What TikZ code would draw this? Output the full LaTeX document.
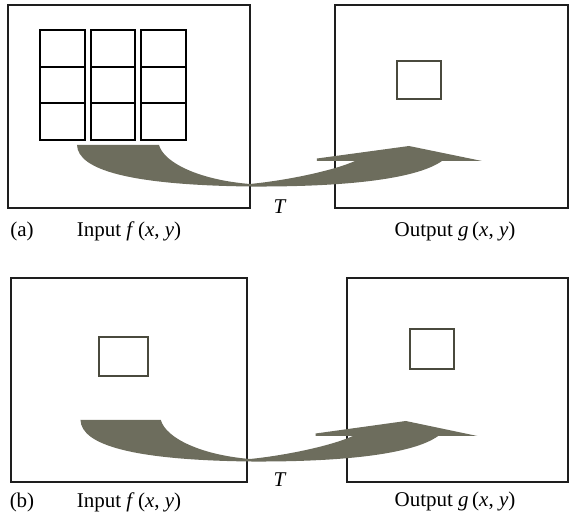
\documentclass[tikz,border=0pt]{standalone}
\usepackage{fontspec}
\setmainfont{Liberation Serif}
\usetikzlibrary{positioning,calc}
\definecolor{ink}{HTML}{1E1E1E}
\definecolor{slate}{HTML}{4A4A3D}
\definecolor{khaki}{HTML}{6D6D5D}

\tikzset{
  frame/.style={draw=ink, line width=0.7pt, inner sep=0pt},
  cell/.style={draw=black, line width=1pt, inner sep=0pt,
    minimum width=22.25pt, minimum height=18.35pt},
  patch/.style={draw=slate, line width=0.9pt, inner sep=0pt},
  caption/.style={anchor=base, inner sep=0pt, text=black,
    font=\fontsize{10.5}{12}\selectfont},
  % the warping arrow, drawn round its narrow neck
  warp/.pic={
    \fill[khaki] (-173,-40) -- (-91,-40)
      .. controls (-86,-22) and (-50,-5) .. (0,-1)
      .. controls (40,-5) and (85,-15) .. (105,-24)
      -- (67,-24) -- (67,-26.5) -- (159,-39) -- (232,-24) -- (192,-24)
      .. controls (165,-5) and (90,2) .. (0,1.5)
      .. controls (-120,0) and (-172,-15) .. (-173,-40) -- cycle;
  }
}

\begin{document}
\begin{tikzpicture}[x=0.5pt, y=-0.5pt]
    \useasboundingbox (0,0) rectangle (570,518);

    % (a)
    \node[frame, minimum width=121pt, minimum height=101.5pt] (inA) at (129,106.5) {};
    \node[frame, minimum width=116.5pt, minimum height=101.5pt] (outA) at (451.5,106.5) {};
    \foreach \i in {0,1,2}
      \foreach \j in {0,1,2}
        \node[cell] (cell-\i-\j) at ({62.75+50.4*\i},{48.35+36.7*\j}) {};
    \node[patch, minimum width=22pt, minimum height=19pt] (sqOutA) at (419,80) {};
    \coordinate (neckA) at (250,185);
    \pic at (neckA) {warp};

    \node[caption] (tagA) at (22,237) {(a)};
    \node[caption] (capInA) at (129,237) {Input \textit{f}\,(\textit{x}, \textit{y})};
    \node[caption] (tA) at (280,214) {\textit{T}};
    \node[caption] (capOutA) at (455,237) {Output \textit{g}\,(\textit{x}, \textit{y})};

    % (b)
    \node[frame, minimum width=118pt, minimum height=102pt] (inB) at (129,380) {};
    \node[frame, minimum width=110.5pt, minimum height=102pt] (outB) at (457.5,380) {};
    \node[patch, minimum width=24.5pt, minimum height=19.5pt] (sqInB) at (123.5,356.5) {};
    \node[patch, minimum width=22pt, minimum height=20pt] (sqOutB) at (432,349) {};
    \coordinate (neckB) at (250,460);
    \pic[xscale=0.98] at (neckB) {warp};

    \node[caption] (tagB) at (22,508) {(b)};
    \node[caption] (capInB) at (129,508) {Input \textit{f}\,(\textit{x}, \textit{y})};
    \node[caption] (tB) at (280,487) {\textit{T}};
    \node[caption] (capOutB) at (455,507) {Output \textit{g}\,(\textit{x}, \textit{y})};
  \end{tikzpicture}
\end{document}
